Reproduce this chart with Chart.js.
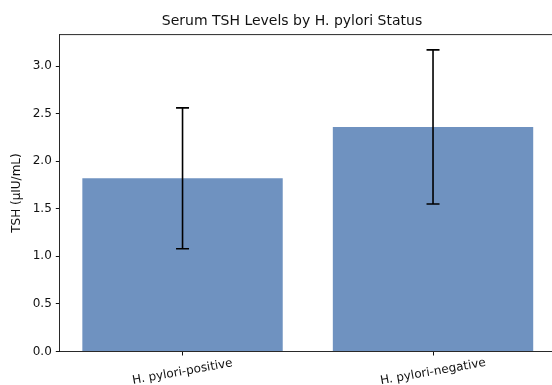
<!DOCTYPE html>
<html>
<head>
<meta charset="utf-8">
<script src="https://cdn.jsdelivr.net/npm/chart.js"></script>
<style>
  html, body { margin: 0; padding: 0; background: #fff; overflow: hidden; }
  #wrap { width: 552px; height: 385px; }
</style>
</head>
<body>
<div id="wrap"><canvas id="tsh-chart"></canvas></div>
<script>
// Data
const groups = ['H. pylori-positive', 'H. pylori-negative'];
const tshMean = [1.82, 2.36];
const tshSd = [0.74, 0.81];
const chartTitle = 'Serum TSH Levels by H. pylori Status';

const FONT = "'DejaVu Sans', sans-serif";
const INK = '#111';

// Error bars (mean ± SD) with caps
const errorBars = {
  id: 'errorBars',
  afterDatasetsDraw(chart) {
    const ctx = chart.ctx;
    const xs = chart.scales.x, ys = chart.scales.y;
    ctx.save();
    ctx.strokeStyle = '#000';
    ctx.lineWidth = 1.6;
    tshMean.forEach((m, i) => {
      const x = xs.getPixelForValue(i);
      const top = ys.getPixelForValue(m + tshSd[i]);
      const bot = ys.getPixelForValue(m - tshSd[i]);
      ctx.beginPath();
      ctx.moveTo(x, top); ctx.lineTo(x, bot);
      ctx.moveTo(x - 6.5, top); ctx.lineTo(x + 6.5, top);
      ctx.moveTo(x - 6.5, bot); ctx.lineTo(x + 6.5, bot);
      ctx.stroke();
    });
    ctx.restore();
  }
};

// Title, top spine and rotated, centred category labels
const frame = {
  id: 'frame',
  afterDraw(chart) {
    const ctx = chart.ctx;
    const a = chart.chartArea;
    ctx.save();
    ctx.strokeStyle = INK;
    ctx.lineWidth = 0.9;
    ctx.beginPath();
    ctx.moveTo(a.left, a.top);
    ctx.lineTo(a.right, a.top);
    ctx.stroke();

    ctx.fillStyle = INK;
    ctx.textAlign = 'center';
    ctx.textBaseline = 'middle';
    ctx.font = '14px ' + FONT;
    ctx.fillText(chartTitle, 292, 21);

    ctx.font = '12px ' + FONT;
    groups.forEach((g, i) => {
      const x = chart.scales.x.getPixelForValue(i);
      ctx.save();
      ctx.translate(x, a.bottom + 20.5);
      ctx.rotate(-10 * Math.PI / 180);
      ctx.fillText(g, 0, 0);
      ctx.restore();
    });
    ctx.restore();
  }
};

new Chart(document.getElementById('tsh-chart'), {
  type: 'bar',
  data: {
    datasets: [{
      data: tshMean.map((v, i) => ({ x: i, y: v })),
      backgroundColor: 'rgb(111, 146, 192)',
      borderWidth: 0,
      categoryPercentage: 1.0,
      barPercentage: 0.8
    }]
  },
  options: {
    responsive: true,
    maintainAspectRatio: false,
    animation: false,
    layout: { padding: { left: 0, right: 0, top: 34.6, bottom: 0 } },
    plugins: {
      legend: { display: false },
      tooltip: { enabled: false },
      title: { display: false }
    },
    scales: {
      x: {
        type: 'linear',
        offset: false,
        min: -0.49,
        max: 1.475,
        z: 1,
        afterFit: (s) => { s.height = 33.5; },
        afterBuildTicks: (s) => { s.ticks = groups.map((g, i) => ({ value: i })); },
        ticks: { display: false },
        grid: { offset: false, drawOnChartArea: false, drawTicks: true, tickLength: 4, color: INK },
        border: { color: INK, width: 0.9 }
      },
      y: {
        min: 0,
        max: 3.33,
        z: 1,
        afterFit: (s) => { s.width = 59.8; },
        ticks: {
          stepSize: 0.5,
          includeBounds: false,
          padding: 4,
          color: INK,
          font: { family: FONT, size: 12 },
          callback: (v) => v.toFixed(1)
        },
        grid: { drawOnChartArea: false, drawTicks: true, tickLength: 4, color: INK },
        border: { color: INK, width: 0.9 },
        title: {
          display: true,
          text: 'TSH (μIU/mL)',
          color: INK,
          font: { family: FONT, size: 12 },
          padding: { top: 10, bottom: 0 }
        }
      }
    }
  },
  plugins: [errorBars, frame]
});
</script>
</body>
</html>
